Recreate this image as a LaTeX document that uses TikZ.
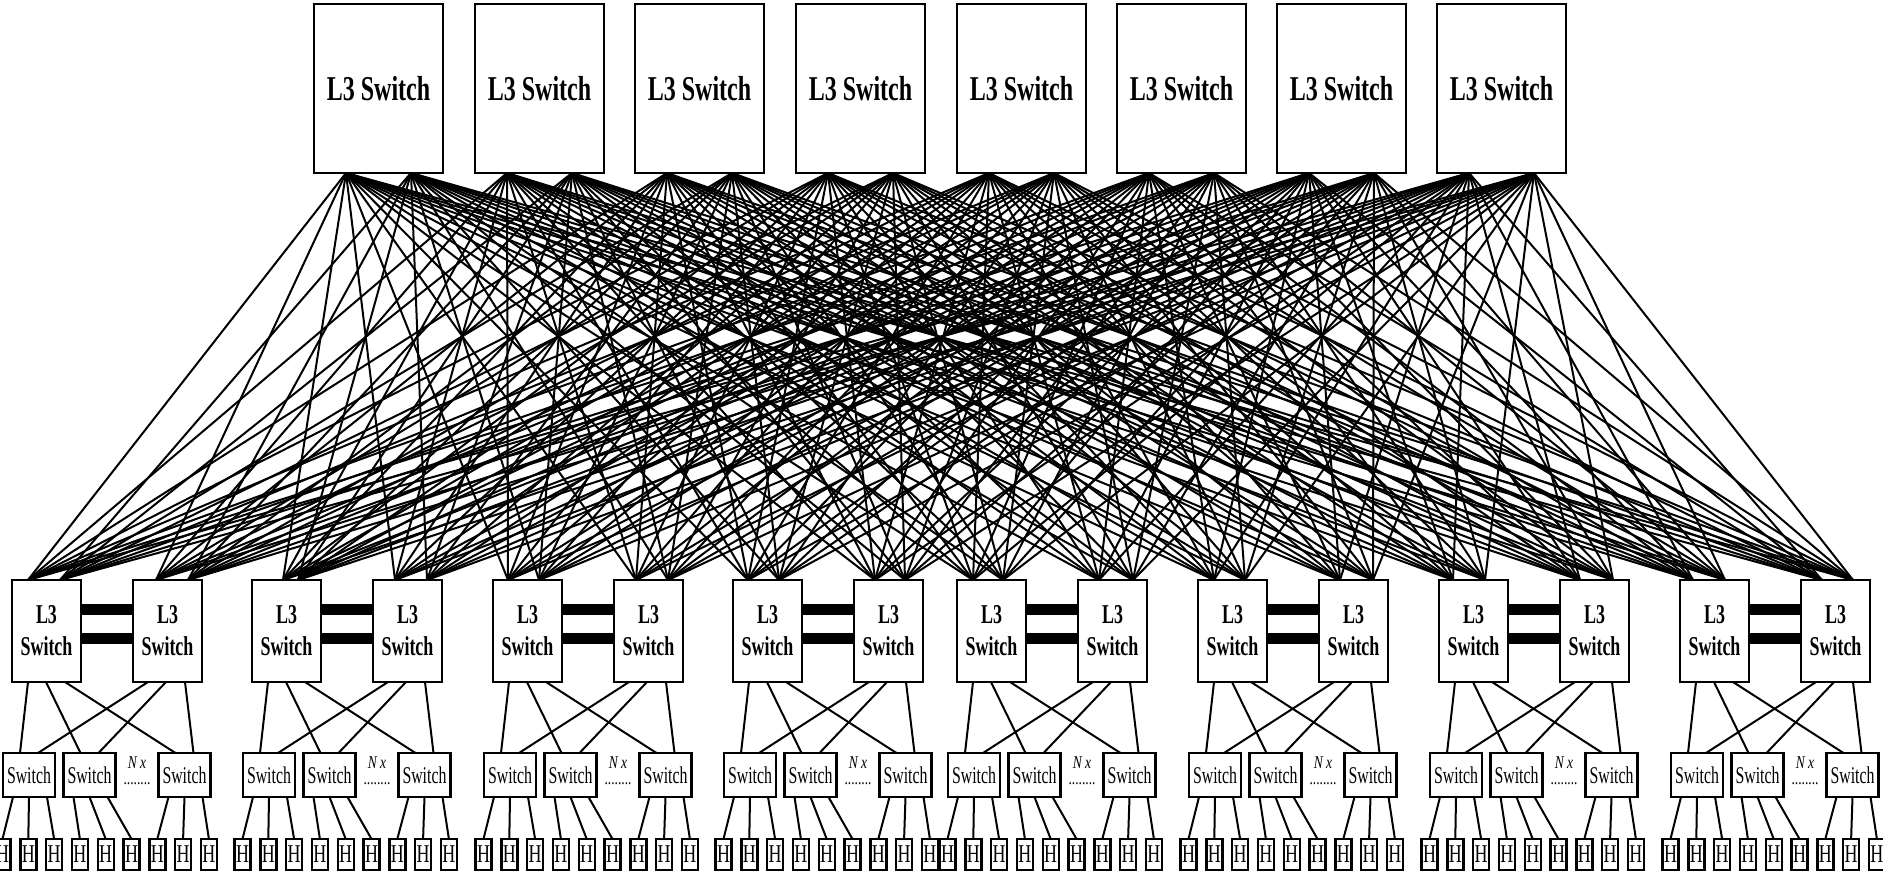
\documentclass[tikz,border=0pt]{standalone}
\usepackage{fontspec}
\setmainfont{Liberation Serif}
\usetikzlibrary{calc}
\begin{document}
\begin{tikzpicture}[x=0.5pt,y=-0.5pt,
  box/.style={draw, line width=1.2pt, inner sep=0pt, outer sep=0pt},
  core/.style={box, minimum width=64.5pt, minimum height=84.5pt, font=\fontsize{17.4}{20}\selectfont\bfseries},
  agg/.style={box, minimum width=34.5pt, minimum height=51pt, align=center, font=\fontsize{13.6}{16}\selectfont\bfseries},
  tor/.style={box, minimum width=26pt, minimum height=22pt, font=\fontsize{12}{14}\selectfont},
  host/.style={box, minimum width=8pt, minimum height=15.5pt, font=\fontsize{12.8}{14}\selectfont},
  nxlab/.style={inner sep=0pt, align=center, font=\fontsize{9}{8}\selectfont},
  mesh/.style={line width=1pt},
  link/.style={line width=1pt},
  bar/.style={line width=5.5pt}]
\useasboundingbox (0,0) rectangle (1883,872);

% core switches
\foreach \x [count=\i] in {314,475,635,796,957,1117,1277,1437} {
  \node[core] (T\i) at (\x+64.5,88.5) {\scalebox{0.69}[1]{L3 Switch}};
  \coordinate (TA\i) at (\x+32,173);
  \coordinate (TB\i) at (\x+97,173);
}

% aggregation L3 switches
\foreach \x/\a/\b [count=\j] in {12/28/60, 133/156/188, 252/283/298, 373/395/427,
    493/508/539, 614/636/668, 733/748/779, 854/875/905,
    957/973/1003, 1078/1099/1133, 1198/1214/1245, 1319/1340/1373,
    1439/1453/1485, 1560/1580/1613, 1680/1693/1725, 1801/1822/1853} {
  \node[agg] (A\j) at (\x+34.5,631) {\scalebox{0.66}[1]{L3}\\\scalebox{0.66}[1]{Switch}};
  \coordinate (Aa\j) at (\a,580);
  \coordinate (Ab\j) at (\b,580);
}

% full mesh
\foreach \i in {1,...,8} {
  \foreach \j in {1,...,16} {
    \draw[mesh] (TA\i) -- (Aa\j);
    \draw[mesh] (TB\i) -- (Ab\j);
  }
}

% pods
\foreach \px [count=\p] in {12,252,493,733,957,1198,1439,1680} {
  \pgfmathtruncatemacro\lft{2*\p-1}
  \pgfmathtruncatemacro\rgt{2*\p}
  \draw[bar] ([yshift=11pt]A\lft.east) -- ([yshift=11pt]A\rgt.west);
  \draw[bar] ([yshift=-3.5pt]A\lft.east) -- ([yshift=-3.5pt]A\rgt.west);
  \node[nxlab] (N\p) at (\px+125,771) {\scalebox{0.75}[1]{\itshape N x}\\\scalebox{0.75}[1]{........}};
  \foreach \s/\sx/\la/\ra in {1/-9/16/15, 2/51.5/34/33, 3/146.5/53/52} {
    \node[tor] (S\p-\s) at (\px+\sx+26,775) {\scalebox{0.66}[1]{Switch}};
    \draw[link] ($(A\lft.south west)+(\la,0)$) -- ($(S\p-\s.north west)+(17,0)$);
    \draw[link] ($(A\rgt.south west)+(\ra,0)$) -- ($(S\p-\s.north west)+(35,0)$);
    \foreach \k/\off in {0/10, 1/26, 2/44} {
      \pgfmathsetmacro\hx{\px-17.5+25.8*(3*(\s-1)+\k)+8}
      \node[host] (H\p-\s-\k) at (\hx,854.5) {\scalebox{0.7}[1]{H}};
      \draw[link] ($(S\p-\s.south west)+(\off,0)$) -- (H\p-\s-\k.north);
    }
  }
}
\end{tikzpicture}
\end{document}
